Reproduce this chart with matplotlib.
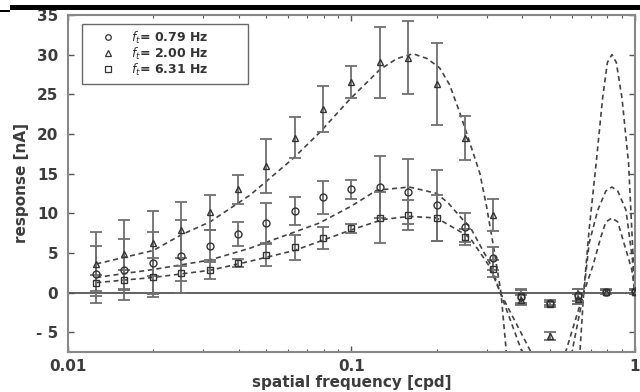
import matplotlib
matplotlib.use("Agg")
import matplotlib.pyplot as plt
from matplotlib.patches import Rectangle
from matplotlib.lines import Line2D
from matplotlib.ticker import NullFormatter

plt.rcParams['font.family'] = ['DejaVu Sans']

# spatial frequencies [cpd]
sf = [0.0126, 0.0158, 0.02, 0.0251, 0.0316, 0.0398, 0.0501, 0.0631, 0.0794, 0.1,
      0.126, 0.158, 0.2, 0.251, 0.316, 0.398, 0.501, 0.631, 0.794, 1.0]

# measured responses [nA]
resp_079 = [2.3, 2.9, 3.75, 4.6, 5.9, 7.4, 8.8, 10.3, 12.0, 13.0,
            13.3, 12.7, 11.0, 8.2, 4.3, -0.6, -1.3, -0.3, 0.1, 0.2]
err_079 = [3.6, 3.9, 3.9, 4.6, 2.0, 1.5, 2.5, 1.8, 2.1, 1.2,
           3.9, 4.1, 4.5, 1.8, 1.5, 1.0, 0.3, 0.8, 0.2, 0.2]
resp_200 = [3.6, 4.8, 6.2, 7.9, 10.1, 13.0, 16.0, 19.5, 23.1, 26.5,
            29.0, 29.6, 26.3, 19.5, 9.8, -0.9, -5.5, -0.8, 0.1, 0.1]
err_200 = [4.0, 4.3, 4.1, 3.5, 2.2, 1.8, 3.4, 2.6, 2.9, 2.0,
           4.5, 4.6, 5.2, 2.8, 2.0, 0.6, 0.5, 0.6, 0.3, 0.3]
resp_631 = [1.2, 1.6, 1.9, 2.4, 2.9, 3.75, 4.7, 5.7, 6.9, 8.1,
            9.45, 9.8, 9.45, 7.0, 3.0, -0.5, -1.5, -0.5, 0.1, 0.1]
err_631 = [1.0, 1.3, 2.5, 1.0, 1.2, 0.5, 1.4, 1.6, 1.4, 0.6,
           3.2, 1.9, 2.9, 1.0, 1.1, 0.8, 0.3, 1.0, 0.2, 0.2]

# fitted model curves
fit_x_200 = [0.0126, 0.02, 0.0252, 0.0317, 0.044, 0.0623, 0.0774, 0.099, 0.126, 0.145,
             0.165, 0.185, 0.205, 0.222, 0.24, 0.26, 0.284, 0.30, 0.32, 0.337,
             0.352, 0.40, 0.49, 0.58, 0.64, 0.66, 0.69, 0.73, 0.77, 0.80,
             0.83, 0.86, 0.90, 0.95, 0.975, 1.0]
fit_y_200 = [3.6, 5.3, 7.3, 8.9, 12.3, 16.9, 20.2, 24.4, 28.1, 29.5,
             30.1, 29.5, 28.3, 26.2, 22.9, 19.2, 15.0, 10.8, 5.0, 0.0,
             -7.5, -22.0, -30.0, -22.0, -7.5, 0.0, 8.0, 16.3, 24.6, 29.0,
             30.0, 29.0, 24.6, 16.3, 8.0, 0.0]
fit_x_079 = [0.0126, 0.02, 0.0317, 0.044, 0.077, 0.1, 0.123, 0.16, 0.2, 0.22,
             0.247, 0.262, 0.31, 0.335, 0.40, 0.49, 0.60, 0.66, 0.69, 0.74,
             0.79, 0.83, 0.87, 0.93, 0.98, 1.0]
fit_y_079 = [1.9, 2.9, 4.1, 5.6, 8.75, 10.9, 12.9, 13.3, 12.5, 11.25,
             9.2, 8.3, 3.5, 0.0, -7.5, -13.5, -7.5, 0.0, 6.25, 10.4,
             12.8, 13.3, 12.8, 10.4, 4.2, 0.0]
fit_x_631 = [0.0126, 0.02, 0.0317, 0.044, 0.063, 0.1, 0.129, 0.16, 0.2, 0.247,
             0.262, 0.307, 0.335, 0.43, 0.49, 0.57, 0.66, 0.71, 0.76, 0.79,
             0.83, 0.87, 0.90, 0.975, 1.0]
fit_y_631 = [1.25, 1.9, 2.8, 3.95, 5.3, 7.9, 9.2, 9.6, 9.4, 7.5,
             6.9, 3.3, 0.0, -7.5, -9.5, -7.5, 0.0, 3.3, 7.1, 8.9,
             9.4, 8.9, 7.1, 2.9, 0.0]

labels = [r'$f_t$= 0.79 Hz', r'$f_t$= 2.00 Hz', r'$f_t$= 6.31 Hz']

yticks = [-5, 0, 5, 10, 15, 20, 25, 30, 35]
ytick_labels = ['- 5', '0', '5', '10', '15', '20', '25', '30', '35']
xticks = [0.01, 0.1, 1]
xtick_labels = ['0.01', '0.1', '1']

fig = plt.figure(figsize=(6.4, 3.92), dpi=100)
ax = fig.add_axes([0.106, 0.102, 0.886, 0.860])

line_col = '#444444'
err_col = '#707070'
mk_col = '#333333'
txt_col = '#3c3c3c'

ax.axhline(0, color='#555555', lw=1.3, zorder=1)

for fx, fy in [(fit_x_200, fit_y_200), (fit_x_079, fit_y_079), (fit_x_631, fit_y_631)]:
    ax.plot(fx, fy, color=line_col, lw=1.2, dashes=(3, 2.2), zorder=2)

handles = []
for resp, err, mk, lab in [(resp_079, err_079, 'o', labels[0]),
                           (resp_200, err_200, '^', labels[1]),
                           (resp_631, err_631, 's', labels[2])]:
    ax.errorbar(sf, resp, yerr=err, fmt='none', ecolor=err_col, elinewidth=1.3,
                capsize=4, capthick=1.3, zorder=3)
    ax.plot(sf, resp, linestyle='none', marker=mk, ms=5, mfc='none',
            mec=mk_col, mew=1.0, zorder=4)
    handles.append(Line2D([], [], linestyle='none', marker=mk, ms=4, mfc='none',
                          mec=mk_col, mew=0.9, label=lab))

ax.set_xscale('log')
ax.set_xlim(0.01, 1)
ax.set_ylim(-7.5, 35)
ax.set_yticks(yticks)
ax.set_yticklabels(ytick_labels)
ax.set_xticks(xticks)
ax.set_xticklabels(xtick_labels)
ax.xaxis.set_minor_formatter(NullFormatter())

ax.tick_params(axis='both', which='both', direction='in', top=True, right=True,
               colors='#555555', labelcolor=txt_col, labelsize=11)
ax.tick_params(axis='both', which='major', length=4, width=1)
ax.tick_params(axis='both', which='minor', length=2.5, width=0.8)
ax.tick_params(axis='x', which='major', pad=5)
ax.tick_params(axis='y', which='major', pad=7)
for lab in ax.get_xticklabels() + ax.get_yticklabels():
    lab.set_fontweight('bold')
for sp in ax.spines.values():
    sp.set_color('#888888')
    sp.set_linewidth(1.5)

ax.set_xlabel('spatial frequency [cpd]', fontsize=11, color=txt_col, labelpad=1,
              fontweight='bold')
ax.set_ylabel('response [nA]', fontsize=11, color=txt_col, labelpad=5,
              fontweight='bold')

leg = ax.legend(handles=handles, loc='upper left',
                bbox_to_anchor=(0.025, 0.807, 0.293, 0.166), mode='expand',
                fontsize=9, frameon=True, fancybox=False, edgecolor='#444444',
                handletextpad=0.3, handlelength=3.2, borderpad=0.45, labelspacing=0.0,
                borderaxespad=0)
leg.get_frame().set_linewidth(1.0)
for t in leg.get_texts():
    t.set_color('#333333')
    t.set_fontweight('bold')

# black scan bar at top
fig.add_artist(Rectangle((10 / 640, 1 - 9.5 / 392), 630 / 640, 4 / 392,
                         transform=fig.transFigure, color='black', lw=0))
fig.add_artist(Rectangle((0, 1 - 12 / 392), 10 / 640, 1.5 / 392,
                         transform=fig.transFigure, color='black', lw=0))

fig.savefig('out.png', dpi=100)
